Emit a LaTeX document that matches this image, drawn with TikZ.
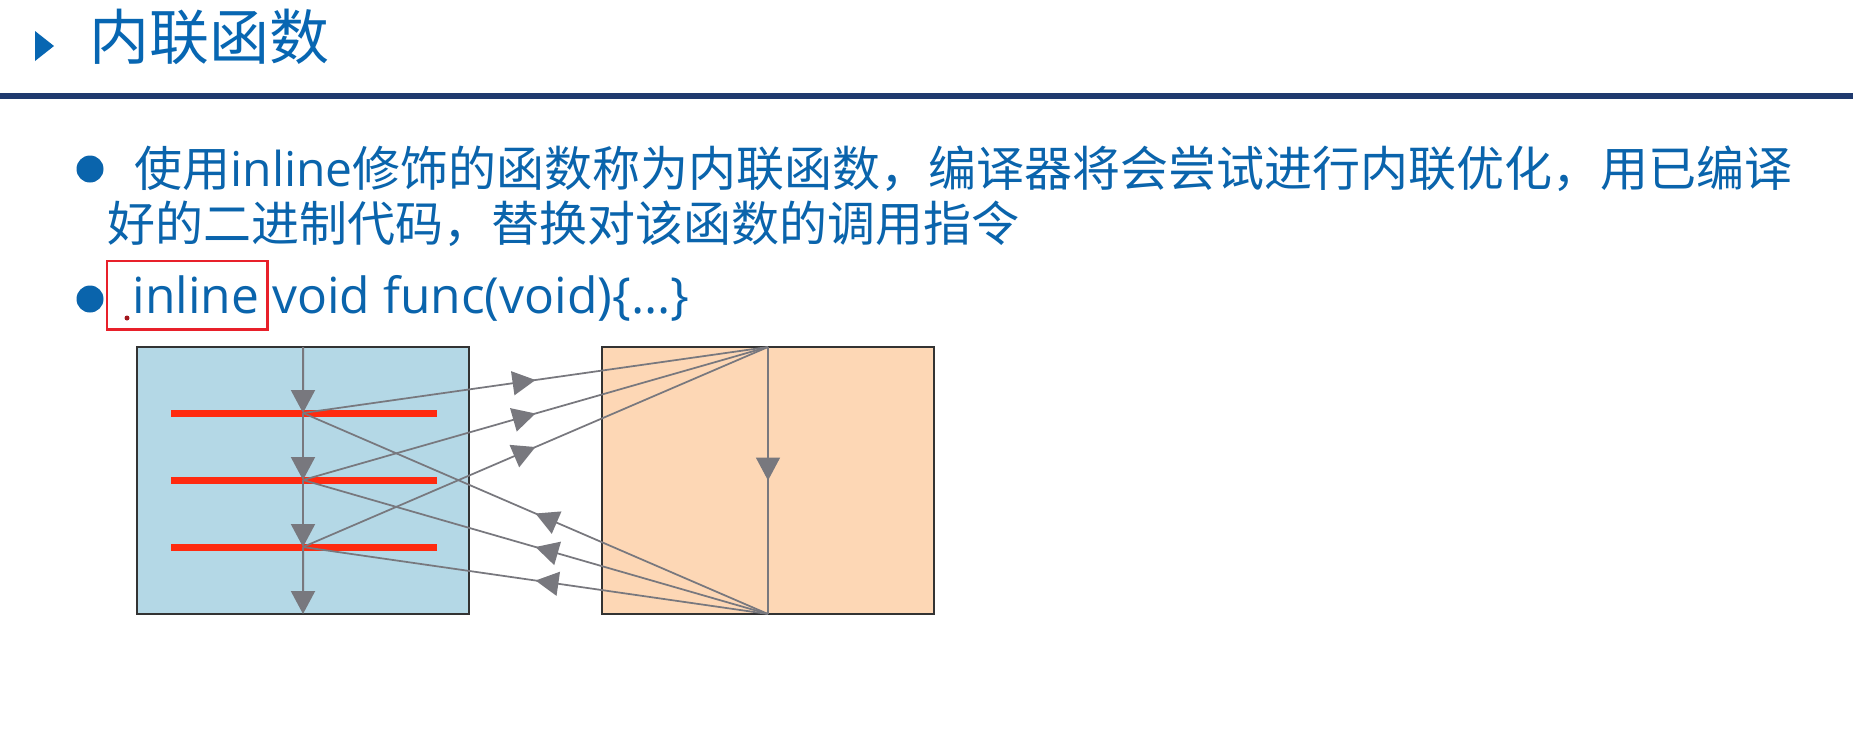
\documentclass[tikz,border=0pt]{standalone}
\usepackage{fontspec}
\setmainfont{Open Sans}
\newfontfamily\cjk{Noto Sans CJK SC}
\usetikzlibrary{arrows.meta,decorations.markings}
\definecolor{titleblue}{HTML}{0766B2}
\definecolor{txtblue}{HTML}{0A64AC}
\definecolor{navy}{HTML}{1F3A6E}
\definecolor{boxblue}{HTML}{B4D8E6}
\definecolor{boxpeach}{HTML}{FDD7B5}
\definecolor{bordergray}{HTML}{333333}
\definecolor{flowgray}{HTML}{78787E}
\definecolor{barred}{HTML}{FF2A10}
\definecolor{markred}{HTML}{E8202A}
\begin{document}
\begin{tikzpicture}[x=0.4pt,y=-0.4pt,
  bodytext/.style={anchor=base west,inner sep=0pt,text=txtblue,font=\fontsize{19.2}{19.2}\selectfont},
  bulletdot/.style={circle,fill=txtblue,inner sep=0pt,minimum size=10.8pt},
  codebox/.style={draw=bordergray,line width=0.9pt,rectangle,inner sep=0pt,outer sep=0pt,
    minimum width=132.8pt,minimum height=106.8pt,anchor=north west},
  redbar/.style={draw=barred,line width=2.8pt},
  conn/.style={draw=flowgray,line width=0.7pt},
  stem/.style={draw=flowgray,line width=0.8pt,-{Triangle[length=9.2pt,width=9.6pt]}},
  midarrow/.style={postaction={decorate},decoration={markings,
    mark=at position 0.5 with {\arrow[flowgray]{Triangle[length=9.2pt,width=9.6pt]}}}}
]
\useasboundingbox (0,0) rectangle (1853,733);
\fill[white] (0,0) rectangle (1853,733);

% header
\fill[titleblue] (35,31) -- (54,46) -- (35,61) -- cycle;
\node[anchor=base west,inner sep=0pt,text=titleblue,font=\cjk\fontsize{24}{24}\selectfont] (title) at (89,59) {内联函数};
\draw[navy,line width=2.4pt] (0,96) -- (1853,96);

% bullet 1
\node[bulletdot] (b1) at (90,169) {};
\node[bodytext] (t1) at (134,186) {{\cjk 使用}inline{\cjk 修饰的函数称为内联函数，编译器将会尝试进行内联优化，用已编译}};
\node[bodytext] (t1b) at (107,241) {\cjk 好的二进制代码，替换对该函数的调用指令};

% bullet 2
\node[bulletdot] (b2) at (90,299) {};
\node[bodytext,font=\fontsize{19.9}{19.9}\selectfont] (t2) at (132,313) {inline void func(void)\{...\}};
\node[draw=markred,line width=1pt,inner sep=0pt,outer sep=0pt,anchor=north west,
  minimum width=64.2pt,minimum height=27.3pt] (hl) at (107,261) {};
\fill[markred!70!black] (127,318) circle (2.5);

% boxes
\node[codebox,fill=boxblue] (L) at (137,347) {};
\node[codebox,fill=boxpeach] (R) at (602,347) {};

% junctions on the caller's flow
\coordinate (c1) at (303,413);
\coordinate (c2) at (303,480);
\coordinate (c3) at (303,547);

% red inline call sites
\draw[redbar] (171,413) -- (437,413);
\draw[redbar] (171,480) -- (437,480);
\draw[redbar] (171,547) -- (437,547);

% caller flow
\draw[stem] (L.north) -- (c1);
\draw[stem] (c1) -- (c2);
\draw[stem] (c2) -- (c3);
\draw[stem] (c3) -- (L.south);

% function body flow
\draw[conn,midarrow] (R.north) -- (R.south);

% calls
\draw[conn,midarrow] (c1) -- (R.north);
\draw[conn,midarrow] (c2) -- (R.north);
\draw[conn,midarrow] (c3) -- (R.north);

% returns
\draw[conn,midarrow] (R.south) -- (c1);
\draw[conn,midarrow] (R.south) -- (c2);
\draw[conn,midarrow] (R.south) -- (c3);
\end{tikzpicture}
\end{document}
